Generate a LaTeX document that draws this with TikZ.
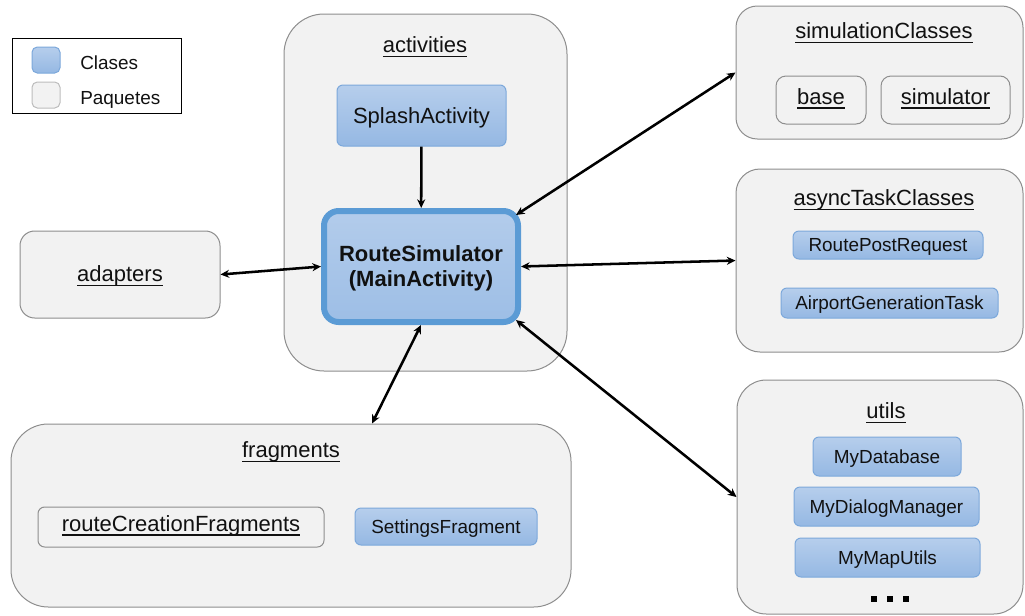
\documentclass[tikz,border=0pt]{standalone}
\usepackage{fontspec}
\setmainfont{Liberation Sans}
\usetikzlibrary{arrows.meta,fit,calc}

\definecolor{pkgfill}{HTML}{F2F2F2}
\definecolor{pkgline}{HTML}{8E8E8E}
\definecolor{swatchline}{HTML}{BDBDBD}
\definecolor{clstop}{HTML}{B6CEEC}
\definecolor{clsbot}{HTML}{95B8E3}
\definecolor{clsline}{HTML}{7CA8DB}
\definecolor{hubtop}{HTML}{B3CCEB}
\definecolor{hubbot}{HTML}{9DBEE6}
\definecolor{hubline}{HTML}{5B9BD5}
\definecolor{ink}{HTML}{111111}

\newcommand\clsfont{\fontsize{14.2}{17}\selectfont}
\newcommand\ttlfont{\fontsize{16.5}{20}\selectfont}
\newcommand\hubfont{\fontsize{16.5}{18.75}\selectfont\bfseries}
% underline drawn close under the baseline, crossing descenders
\newsavebox\ulinebox
\newcommand\uline[1]{\sbox\ulinebox{#1}\rlap{\rule[-0.21em]{\wd\ulinebox}{0.065em}}\usebox\ulinebox}

\begin{document}
\begin{tikzpicture}[x=0.75pt,y=-0.75pt,
  text=ink,
  wh/.style 2 args={minimum width=#1*0.75pt, minimum height=#2*0.75pt},
  pkg/.style={draw=pkgline, fill=pkgfill, line width=0.75pt, inner sep=0pt},
  subpkg/.style={pkg, rounded corners=7.5pt, font=\ttlfont, text height=11.8pt, text depth=5.5pt},
  cls/.style={draw=clsline, top color=clstop, bottom color=clsbot, line width=0.75pt,
    rounded corners=4.5pt, inner sep=0pt, font=\clsfont, text height=10.2pt, text depth=0pt},
  hub/.style={draw=hubline, line width=4.5pt, top color=hubtop, bottom color=hubbot,
    rounded corners=11pt, inner sep=0pt, align=center, font=\hubfont, text depth=0.5pt},
  ttl/.style={font=\ttlfont, inner sep=0pt, text height=11.8pt, text depth=0pt},
  lgd/.style={font=\clsfont, inner sep=0pt, text height=10.2pt, text depth=0pt, anchor=west},
  tip/.tip={Stealth[length=6.5pt,width=6pt]},
  link/.style={line width=1.9pt, tip-tip},
  onelink/.style={line width=1.9pt, -tip},
]
\useasboundingbox (0,0) rectangle (1025,615);
\fill[white] (0,0) rectangle (1025,615);

% legend
\node[draw=black, line width=0.75pt, inner sep=0pt, fit={(12,38)(181,113)}] (legend) {};
\node[cls, rounded corners=4pt, fit={(32,47)(60,73)}] (swcls) {};
\node[pkg, draw=swatchline, rounded corners=4pt, fit={(32,82)(60,108)}] (swpkg) {};
\node[lgd] (lcls) at (80,62.5) {Clases};
\node[lgd] (lpkg) at (80,98) {Paquetes};

% activities package
\node[pkg, rounded corners=30pt, fit={(284,14)(567,371)}] (act) {};
\node[ttl] (actT) at (425,45) {\uline{activities}};
\node[cls, wh={169}{61}, font=\ttlfont, text height=11.8pt] (splash) at (421.5,115.5) {SplashActivity};
\node[hub, wh={194}{111}] (main) at (421,266.5) {RouteSimulator\\(MainActivity)};

% adapters package
\node[pkg, rounded corners=11pt, wh={200}{87}, font=\ttlfont, text height=11.8pt, text depth=1pt] (adapters) at (120,274.5) {\uline{adapters}};

% simulationClasses package
\node[pkg, rounded corners=16pt, fit={(736,6)(1023,139)}] (sim) {};
\node[ttl] (simT) at (884,31) {\uline{simulationClasses}};
\node[subpkg, wh={90}{48}] (base) at (821,100) {\uline{base}};
\node[subpkg, wh={129}{48}] (simulator) at (945.5,100) {\uline{simulator}};

% asyncTaskClasses package
\node[pkg, rounded corners=18pt, fit={(736,169)(1023,352)}] (async) {};
\node[ttl] (asyncT) at (884,197.5) {\uline{asyncTaskClasses}};
\node[cls, wh={190}{28}] (postreq) at (888,245) {RoutePostRequest};
\node[cls, wh={217}{30}] (airport) at (889.5,303) {AirportGenerationTask};

% utils package
\node[pkg, rounded corners=22pt, fit={(737,380)(1023,614)}] (utils) {};
\node[ttl] (utilsT) at (886,411) {\uline{utils}};
\node[cls, wh={148}{39}] (mydb) at (887,456.5) {MyDatabase};
\node[cls, wh={185}{39}] (mydlg) at (886.5,506.5) {MyDialogManager};
\node[cls, wh={185}{39}] (mymap) at (887.5,557.5) {MyMapUtils};
\foreach \x in {873.5,890,906}
  \fill[black] (\x-3,596) rectangle (\x+3,602);

% fragments package
\node[pkg, rounded corners=28pt, fit={(11,424)(571,607)}] (frag) {};
\node[ttl] (fragT) at (291,450) {\uline{fragments}};
\node[subpkg, rounded corners=5pt, wh={286}{40}] (routecf) at (181,527) {\uline{routeCreationFragments}};
\node[cls, wh={182}{37}] (settings) at (446,526.5) {SettingsFragment};

% dependencies
\draw[onelink] (splash) -- (main);
\draw[link] (adapters.east) -- (main.west);
\draw[link] (main.east) -- (async.west);
\draw[link] ($(main.north east)+(-5,7)$) -- (sim.west);
\draw[link] ($(main.south east)+(-5,-5)$) -- (utils.west);
\draw[link] (main.south) -- ($(frag.north)+(81,0)$);
\end{tikzpicture}
\end{document}
